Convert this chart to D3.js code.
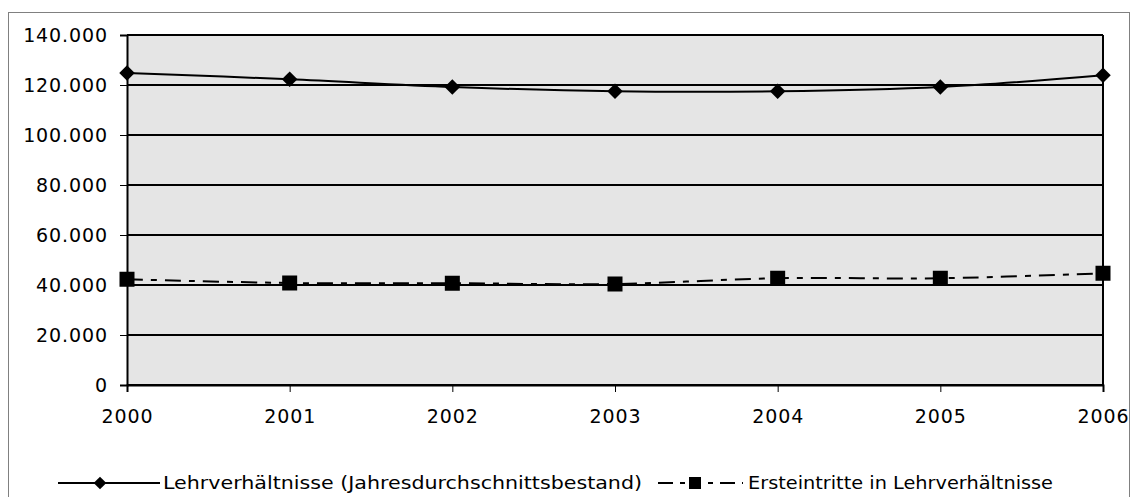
<!DOCTYPE html>
<html>
<head>
<meta charset="utf-8">
<script src="https://cdn.jsdelivr.net/npm/d3@7"></script>
<style>
  html, body { margin: 0; padding: 0; background: #fff; }
  svg { display: block; }
  text { font-family: "DejaVu Sans", Verdana, sans-serif; fill: #000; }
</style>
</head>
<body>
<svg id="chart" width="1131" height="497"></svg>
<script>
const years = ["2000", "2001", "2002", "2003", "2004", "2005", "2006"];
const lehrverhaeltnisse = [124800, 122300, 119200, 117500, 117500, 119200, 123900];
const ersteintritte = [42300, 40800, 40700, 40400, 42700, 42700, 44700];
const yTicks = [0, 20000, 40000, 60000, 80000, 100000, 120000, 140000];
const seriesNames = ["Lehrverhältnisse (Jahresdurchschnittsbestand)", "Ersteintritte in Lehrverhältnisse"];

const svg = d3.select("#chart");
const plot = { left: 127, right: 1103, top: 35, bottom: 385 };

// outer frame
svg.append("rect").attr("x", 8.5).attr("y", 12.5).attr("width", 1121).attr("height", 500)
  .attr("fill", "#fff").attr("stroke", "#808080").attr("stroke-width", 1);

const x = d3.scalePoint().domain(years).range([plot.left, plot.right]);
const y = d3.scaleLinear().domain([0, 140000]).range([plot.bottom, plot.top]);

svg.append("rect").attr("x", plot.left).attr("y", plot.top)
  .attr("width", plot.right - plot.left).attr("height", plot.bottom - plot.top)
  .attr("fill", "#e5e5e5");

// gridlines
svg.append("g").selectAll("line").data(yTicks).join("line")
  .attr("x1", plot.left).attr("x2", plot.right)
  .attr("y1", d => y(d)).attr("y2", d => y(d))
  .attr("stroke", "#000").attr("stroke-width", 2);

// right border
svg.append("line").attr("x1", plot.right).attr("x2", plot.right)
  .attr("y1", plot.top).attr("y2", plot.bottom).attr("stroke", "#000").attr("stroke-width", 2);

const fmt = v => d3.format(",")(v).replace(/,/g, ".");

// y axis
const yAxis = d3.axisLeft(y).tickValues(yTicks).tickFormat(fmt).tickSize(7).tickPadding(12);
const gy = svg.append("g").attr("transform", `translate(${plot.left},0)`).call(yAxis);
gy.select(".domain").attr("stroke", "#000").attr("stroke-width", 2);
gy.selectAll(".tick line").attr("stroke", "#000").attr("stroke-width", 1);
gy.selectAll(".tick text").attr("font-size", 19).attr("letter-spacing", "0.9px")
  .attr("font-family", "DejaVu Sans").attr("fill", "#000").attr("dy", "0.35em");

// x axis
const xAxis = d3.axisBottom(x).tickSize(7).tickPadding(0);
const gx = svg.append("g").attr("transform", `translate(0,${plot.bottom})`).call(xAxis);
gx.select(".domain").attr("stroke", "#000").attr("stroke-width", 2);
gx.selectAll(".tick line").attr("stroke", "#000").attr("stroke-width", 1);
gx.selectAll(".tick text").attr("font-size", 19).attr("letter-spacing", "0.9px")
  .attr("font-family", "DejaVu Sans").attr("fill", "#000").attr("y", 0).attr("dy", 38);

// lines
const line = d3.line().x((d, i) => x(years[i])).y(d => y(d)).curve(d3.curveCatmullRom.alpha(0));
svg.append("path").datum(lehrverhaeltnisse).attr("d", line)
  .attr("fill", "none").attr("stroke", "#000").attr("stroke-width", 2);
svg.append("path").datum(ersteintritte).attr("d", line)
  .attr("fill", "none").attr("stroke", "#000").attr("stroke-width", 2)
  .attr("stroke-dasharray", "16,8,6,8");

// markers
svg.append("g").selectAll("path").data(lehrverhaeltnisse).join("path")
  .attr("d", d3.symbol().type(d3.symbolSquare).size(121)())
  .attr("transform", (d, i) => `translate(${x(years[i])},${y(d)}) rotate(45)`)
  .attr("fill", "#000");
svg.append("g").selectAll("rect").data(ersteintritte).join("rect")
  .attr("x", (d, i) => x(years[i]) - 7.5).attr("y", d => y(d) - 7.5)
  .attr("width", 15).attr("height", 15).attr("fill", "#000");

// legend
const ly = 483;
svg.append("line").attr("x1", 58).attr("x2", 160).attr("y1", ly).attr("y2", ly)
  .attr("stroke", "#000").attr("stroke-width", 2);
svg.append("path").attr("d", d3.symbol().type(d3.symbolSquare).size(81)())
  .attr("transform", `translate(100,${ly}) rotate(45)`).attr("fill", "#000");
svg.append("text").attr("x", 163).attr("y", ly).attr("dy", "0.36em")
  .attr("font-size", 18).attr("textLength", 479).attr("lengthAdjust", "spacingAndGlyphs")
  .text(seriesNames[0]);

svg.append("line").attr("x1", 658).attr("x2", 743).attr("y1", ly).attr("y2", ly)
  .attr("stroke", "#000").attr("stroke-width", 2).attr("stroke-dasharray", "15,7,5,5,0,18,5,7");
svg.append("rect").attr("x", 689).attr("y", ly - 6).attr("width", 12).attr("height", 12).attr("fill", "#000");
svg.append("text").attr("x", 748).attr("y", ly).attr("dy", "0.36em")
  .attr("font-size", 18).attr("textLength", 305).attr("lengthAdjust", "spacingAndGlyphs")
  .text(seriesNames[1]);
</script>
</body>
</html>
